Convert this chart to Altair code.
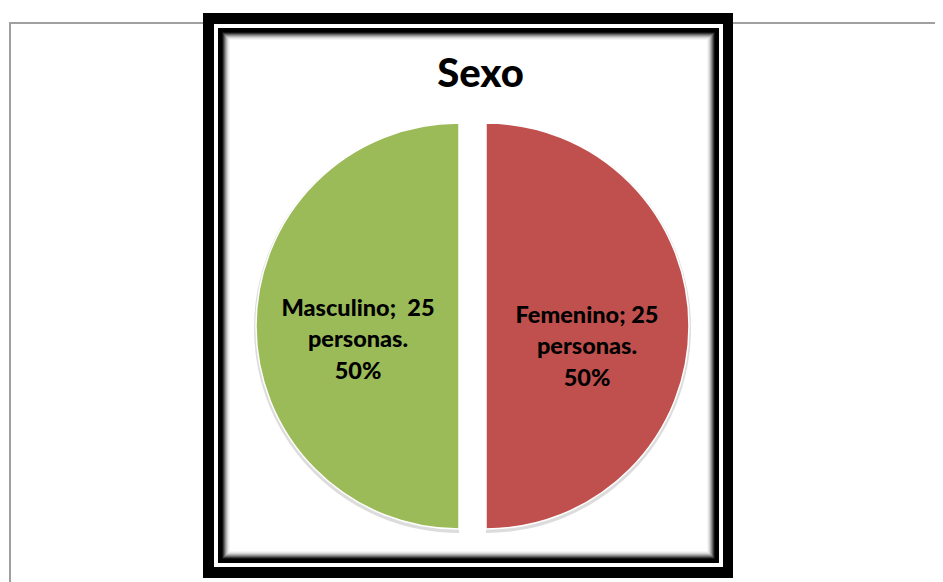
import altair as alt
import pandas as pd

# ---- data ----
sexo = ["Femenino", "Masculino"]
personas = [25, 25]
etiquetas = ["Femenino; 25\npersonas.\n50%", "Masculino;\u00a0 25\npersonas.\n50%"]
colores = ["#C0504D", "#9BBB59"]
titulo = "Sexo"

df = pd.DataFrame({"sexo": sexo, "personas": personas, "etiqueta": etiquetas})

W, H = 927, 574
PCX, PCY = 464.5, 318   # pie centre (layout)
R = 203                 # pie radius
EXPLODE = 13.5

one = pd.DataFrame({"k": [0]})


def rect(x1, y1, x2, y2, color):
    return alt.Chart(one).mark_rect(color=color).encode(
        x=alt.value(x1), x2=alt.value(x2), y=alt.value(y1), y2=alt.value(y2)
    )


layers = []
# outer thin gray frame
layers.append(rect(1, 14, W + 20, 16, "#a0a0a0"))
layers.append(rect(1, 14, 3, H + 20, "#a0a0a0"))
# black double frame
layers.append(rect(195, 5, 725, 570, "#000000"))
layers.append(rect(206, 16, 715, 559, "#ffffff"))
layers.append(rect(210, 20, 711, 555, "#000000"))
# inner shadow gradient
shades = ["#111111", "#3a3a3a", "#666666", "#8f8f8f", "#b4b4b4", "#d2d2d2", "#e8e8e8", "#f6f6f6", "#ffffff"]
for i, c in enumerate(shades):
    k = 4 + i
    layers.append(rect(210 + k, 20 + k, 711 - k, 555 - k, c))

base = alt.Chart(df)
color_enc = alt.Color("sexo:N", scale=alt.Scale(domain=sexo, range=colores), legend=None)
theta_enc = alt.Theta("personas:Q", stack=True)
order_enc = alt.Order("sexo:N", sort="ascending")

LH = 31.5
offsets = {"Femenino": (EXPLODE, 21 - LH), "Masculino": (-EXPLODE, 14 - LH)}
for name in sexo:
    dx, dy = offsets[name]
    show = alt.datum.sexo == name
    shadow = base.mark_arc(radius=R + 2, color="#a8a8a8", xOffset=dx, yOffset=2).encode(
        theta=theta_enc, order=order_enc,
        x=alt.value(PCX), y=alt.value(PCY),
        opacity=alt.condition(show, alt.value(0.4), alt.value(0)),
    )
    arc = base.mark_arc(radius=R, stroke="white", strokeWidth=1.5, xOffset=dx).encode(
        theta=theta_enc, order=order_enc, color=color_enc,
        x=alt.value(PCX), y=alt.value(PCY),
        opacity=alt.condition(show, alt.value(1), alt.value(0)),
    )
    txt = base.mark_text(
        radius=101, font="Lato", fontSize=23.5, fontWeight=900, color="black",
        lineBreak="\n", lineHeight=LH, align="center", baseline="middle",
        xOffset=dx, yOffset=dy,
    ).encode(
        theta=theta_enc, order=order_enc, text="etiqueta:N",
        x=alt.value(PCX), y=alt.value(PCY),
        opacity=alt.condition(show, alt.value(1), alt.value(0)),
    )
    layers += [shadow, arc, txt]

title = alt.Chart(pd.DataFrame({"t": [titulo]})).mark_text(
    font="Lato", fontSize=40, fontWeight=900, color="black",
    align="center", baseline="alphabetic",
).encode(text="t:N", x=alt.value(472.5), y=alt.value(79))
layers.append(title)

chart = alt.layer(*layers).properties(
    width=W, height=H, padding=0, autosize="none", background="white"
).configure_view(stroke=None)

chart.save("out.html", embed_options={"renderer": "svg", "actions": False})
